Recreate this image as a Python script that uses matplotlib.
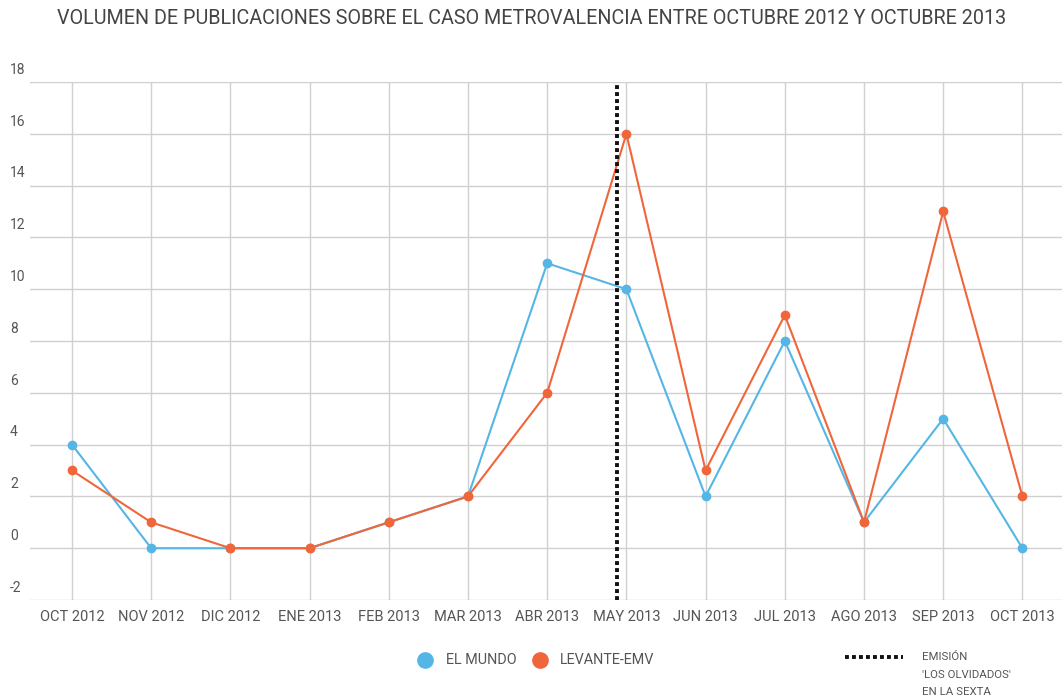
import matplotlib
matplotlib.use("Agg")
import matplotlib.pyplot as plt
from matplotlib.lines import Line2D

plt.rcParams['font.family'] = ['Roboto', 'DejaVu Sans']

months = ["OCT 2012", "NOV 2012", "DIC 2012", "ENE 2013", "FEB 2013", "MAR 2013",
          "ABR 2013", "MAY 2013", "JUN 2013", "JUL 2013", "AGO 2013", "SEP 2013", "OCT 2013"]
el_mundo = [4, 0, 0, 0, 1, 2, 11, 10, 2, 8, 1, 5, 0]
levante = [3, 1, 0, 0, 1, 2, 6, 16, 3, 9, 1, 13, 2]
yticks = [-2, 0, 2, 4, 6, 8, 10, 12, 14, 16, 18]
emision_pos = 6.88

blue = "#55b6e6"
orange = "#f0663a"
grid_c = "#d0d0d0"
text_c = "#555555"
dots = (0, (1, 0.8))

fig = plt.figure(figsize=(10.64, 7.0), dpi=100)
ax = fig.add_axes([30 / 1064, 1 - 600 / 700, 1032 / 1064, 518 / 700])

x = list(range(len(months)))
ax.plot(x, el_mundo, color=blue, lw=1.5, marker='o', ms=6, zorder=3)
ax.plot(x, levante, color=orange, lw=1.5, marker='o', ms=6, zorder=4)
ax.axvline(emision_pos, color="#111111", lw=2.8, ls=dots, zorder=5)

ax.set_xlim(-0.53, 12.5)
ax.set_ylim(-2, 18)
ax.set_yticks(yticks)
ax.set_xticks(x)
ax.set_xticklabels(months, fontsize=10.5, color=text_c)
ax.set_yticklabels([])
for v in yticks:
    ax.text(-0.53 - 20 / 79.25, v + 0.2, str(v), fontsize=10, color=text_c,
            ha='left', va='bottom')
ax.grid(True, color=grid_c, lw=1)
ax.tick_params(length=0, pad=7)
for s in ax.spines.values():
    s.set_visible(False)

fig.text(0.5, 1 - 18 / 700, "VOLUMEN DE PUBLICACIONES SOBRE EL CASO METROVALENCIA ENTRE OCTUBRE 2012 Y OCTUBRE 2013",
         ha='center', va='center', fontsize=14.2, color="#444444")

# legend
fig.add_artist(Line2D([425 / 1064], [1 - 660 / 700], marker='o', ms=11, color=blue, lw=0))
fig.text(446 / 1064, 1 - 660 / 700, "EL MUNDO", fontsize=10.4, color=text_c, va='center')
fig.add_artist(Line2D([540 / 1064], [1 - 660 / 700], marker='o', ms=11, color=orange, lw=0))
fig.text(560 / 1064, 1 - 660 / 700, "LEVANTE-EMV", fontsize=10.4, color=text_c, va='center')
fig.add_artist(Line2D([845 / 1064, 903 / 1064], [1 - 657 / 700] * 2, color="#111111", lw=2.8,
                      ls=dots))
fig.text(922 / 1064, 1 - 657 / 700, "EMISIÓN", fontsize=8.2, color=text_c, va='center')
fig.text(922 / 1064, 1 - 675 / 700, "'LOS OLVIDADOS'", fontsize=8.2, color=text_c, va='center')
fig.text(922 / 1064, 1 - 692 / 700, "EN LA SEXTA", fontsize=8.2, color=text_c, va='center')

fig.savefig("out.png", dpi=100)
